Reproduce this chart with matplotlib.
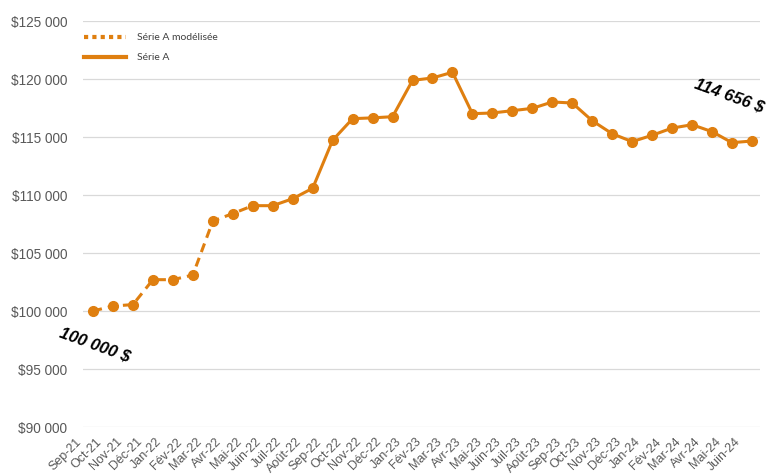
import matplotlib
matplotlib.use("Agg")
import matplotlib.pyplot as plt
import matplotlib.transforms as mtransforms
from matplotlib.lines import Line2D
from matplotlib.ticker import FuncFormatter

months = ["Sep-21", "Oct-21", "Nov-21", "Déc-21", "Jan-22", "Fév-22", "Mar-22", "Avr-22",
          "Mai-22", "Juin-22", "Juil-22", "Août-22", "Sep-22", "Oct-22", "Nov-22", "Déc-22",
          "Jan-23", "Fév-23", "Mar-23", "Avr-23", "Mai-23", "Juin-23", "Juil-23", "Août-23",
          "Sep-23", "Oct-23", "Nov-23", "Déc-23", "Jan-24", "Fév-24", "Mar-24", "Avr-24",
          "Mai-24", "Juin-24"]

values = [100000, 100430, 100550, 102700, 102700, 103100, 107750, 108400,
          109080, 109080, 109680, 110580, 114720, 116580, 116650, 116750,
          119880, 120090, 120580, 117010, 117070, 117270, 117470, 118020,
          117930, 116400, 115280, 114600, 115150, 115770, 116060, 115460,
          114510, 114656]

n_modeled = 9  # Sep-21 .. Mai-22 modelled (dashed)
label_modeled = "Série A modélisée"
label_real = "Série A"
start_label = "100 000 $"
end_label = "114 656 $"
yticks = [90000, 95000, 100000, 105000, 110000, 115000, 120000, 125000]

color = "#DF7F10"

fig = plt.figure(figsize=(7.67, 4.75), dpi=100)
ax = fig.add_axes([83/767, 1-427/475, (760-83)/767, (427-21)/475])

x = list(range(len(months)))
ax.plot(x[:n_modeled], values[:n_modeled], color=color, lw=2.2,
        linestyle=(0, (3, 2)), marker="o", markersize=7, zorder=3)
ax.plot(x[n_modeled-1:], values[n_modeled-1:], color=color, lw=2.2,
        linestyle="-", marker="o", markersize=7, zorder=3)

ax.set_xlim(-0.5, len(months) - 0.6)
ax.set_ylim(yticks[0], yticks[-1])
ax.set_yticks(yticks)
ax.yaxis.set_major_formatter(FuncFormatter(lambda v, p: "$" + f"{int(v):,}".replace(",", " ")))
ax.grid(axis="y", color="#D9D9D9", lw=0.9)
ax.set_axisbelow(True)
for s in ax.spines.values():
    s.set_visible(False)

ax.tick_params(axis="y", length=0, pad=11.5, labelsize=9.8, labelcolor="#595959")
for lab in ax.get_yticklabels():
    lab.set_fontfamily("Liberation Sans")

ax.set_xticks(x)
ax.set_xticklabels(months, rotation=45, ha="right", va="center",
                   rotation_mode="anchor", fontsize=9, color="#595959",
                   fontfamily="Liberation Sans")
ax.tick_params(axis="x", length=0, pad=0)
offset = mtransforms.ScaledTranslation(-13/100, -13/100, fig.dpi_scale_trans)
for lab in ax.get_xticklabels():
    lab.set_transform(lab.get_transform() + offset)

# annotations
fig.text(95/767, 1-345/475, start_label, rotation=-20, ha="center", va="center",
         fontsize=12, fontweight="bold", fontstyle="italic", fontfamily="Liberation Sans",
         color="black")
fig.text(729/767, 1-96/475, end_label, rotation=-20, ha="center", va="center",
         fontsize=12, fontweight="bold", fontstyle="italic", fontfamily="Liberation Sans",
         color="black")

handles = [Line2D([], [], color=color, lw=3, linestyle=(0, (1, 1)), solid_capstyle="butt",
                  dash_capstyle="butt"),
           Line2D([], [], color=color, lw=3, linestyle="-")]
leg = ax.legend(handles, [label_modeled, label_real], loc="upper left",
                bbox_to_anchor=(79/767, 1-28/475), bbox_transform=fig.transFigure,
                frameon=False, prop={"family": "Lato", "size": 7.5},
                handlelength=4.0, handletextpad=1.1, labelspacing=1.0, borderpad=0)
for t in leg.get_texts():
    t.set_color("#404040")

fig.savefig("out.png", dpi=100)
